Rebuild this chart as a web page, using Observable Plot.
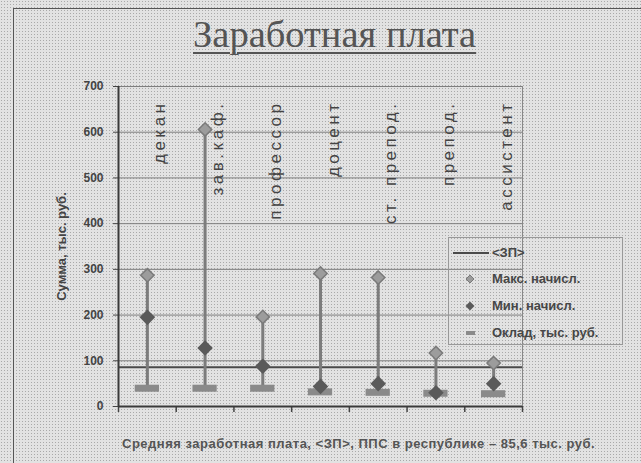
<!DOCTYPE html>
<html>
<head>
<meta charset="utf-8">
<script src="https://cdn.jsdelivr.net/npm/d3@7"></script>
<script src="https://cdn.jsdelivr.net/npm/@observablehq/plot@0.6"></script>
<style>
  html, body { margin: 0; padding: 0; }
  body {
    width: 641px; height: 463px; overflow: hidden; position: relative;
    background-color: #e2e2e2;
    background-image: radial-gradient(#a9a9a9 0.9px, transparent 1px);
    background-size: 3px 3px;
    font-family: "Liberation Sans", Arial, sans-serif;
  }
  #frame { position: absolute; left: 13px; top: 8px; width: 700px; height: 500px; border: 1.5px solid #555; }
  #title {
    position: absolute; left: 0; width: 641px; top: 15px; text-align: left;
    font-family: "Liberation Serif", "Times New Roman", serif; font-size: 38.5px; line-height: 38.5px;
    color: #555; 
  }
  #title span { position: absolute; left: 193px; text-decoration: underline; text-decoration-thickness: 1.5px; text-underline-offset: 5px; white-space: nowrap; }
  #chart { position: absolute; left: 0; top: 0; }
  #legend {
    position: absolute; left: 448px; top: 237px; width: 175px; height: 108px;
    border: 1px solid #999; box-sizing: border-box;
  }
  .item { position: absolute; left: 0; height: 20px; width: 175px; font-weight: bold; font-size: 13px; color: #474747; }
  .item svg { position: absolute; left: 0; top: 0; }
  .item span { position: absolute; left: 43px; top: 2px; white-space: nowrap; }
  #caption {
    position: absolute; left: 122px; top: 436px; white-space: nowrap;
    font-size: 13px; letter-spacing: 0.5px; font-weight: bold; color: #555;
  }
</style>
</head>
<body>
<div id="frame"></div>
<div id="chart"></div>
<div id="title"><span></span></div>
<div id="legend"></div>
<div id="caption"></div>
<script>
const titleText = "Заработная плата";
const yLabel = "Сумма, тыс. руб.";
const captionText = "Средняя заработная плата, <ЗП>, ППС в республике – 85,6 тыс. руб.";
const categories = ["декан", "зав.каф.", "профессор", "доцент", "ст. препод.", "препод.", "ассистент"];
const maxPay = [287, 606, 196, 291, 282, 117, 95];
const minPay = [195, 128, 88, 44, 50, 30, 50];
const salary = [40, 40, 40, 32, 31, 29, 28];
const avgPay = 85.6;
const yTicks = [0, 100, 200, 300, 400, 500, 600, 700];
const legendLabels = ["<ЗП>", "Макс. начисл.", "Мин. начисл.", "Оклад, тыс. руб."];

const rows = categories.map((cat, i) => ({cat, i, xc: i + 0.5, max: maxPay[i], min: minPay[i], salary: salary[i]}));
const xDomain = [0, categories.length];

const chart = Plot.plot({
  width: 641, height: 463,
  marginLeft: 118, marginRight: 119, marginTop: 86, marginBottom: 57,
  x: {domain: xDomain, axis: null},
  y: {domain: [0, 700], axis: null},
  style: {background: "transparent", fontFamily: "Liberation Sans, Arial, sans-serif", overflow: "visible"},
  marks: [
    Plot.gridY(yTicks.slice(1), {stroke: "#7e7e7e", strokeOpacity: 1, strokeWidth: 1}),
    Plot.ruleX([xDomain[1]], {stroke: "#888", strokeWidth: 1}),
    Plot.ruleY([avgPay], {stroke: "#4a4a4a", strokeWidth: 2}),
    Plot.ruleX(rows, {x: "xc", y1: "salary", y2: "max", stroke: "#7c7c7c", strokeWidth: 3}),
    Plot.ruleY(rows, {y: "salary", x1: d => d.i + 0.29, x2: d => d.i + 0.71, stroke: "#8a8a8a", strokeWidth: 7}),
    Plot.dot(rows, {x: "xc", y: "min", symbol: "diamond2", r: 7, fill: "#5a5a5a"}),
    Plot.dot(rows, {x: "xc", y: "max", symbol: "diamond2", r: 6, fill: "#9c9c9c", stroke: "#7a7a7a"}),
    Plot.text(rows, {x: "xc", text: "cat", frameAnchor: "top", rotate: -90, textAnchor: "end", dy: 14, dx: 6,
      fontSize: 17, fill: "#444"}),
    Plot.axisY({ticks: yTicks, tickSize: 5, tickPadding: 10, fontSize: 12, fontWeight: "bold", color: "#444",
      label: yLabel, labelAnchor: "center", labelArrow: "none", labelOffset: 62}),
    Plot.axisX({ticks: d3.range(xDomain[0], xDomain[1] + 1), tickSize: 6, tickFormat: () => "", label: null, stroke: "#444", strokeWidth: 1.5}),
    Plot.ruleX([xDomain[0]], {stroke: "#3a3a3a", strokeWidth: 2}),
    Plot.ruleY([0], {stroke: "#3a3a3a", strokeWidth: 2})
  ]
});
chart.querySelectorAll("text").forEach(t => {
  if (t.textContent === yLabel) { t.setAttribute("font-weight", "bold"); t.setAttribute("font-size", "13"); t.setAttribute("fill", "#444"); }
  if (categories.includes(t.textContent)) { t.setAttribute("letter-spacing", "3.5"); }
});
document.getElementById("chart").appendChild(chart);
document.querySelector("#title span").textContent = titleText;
document.getElementById("caption").textContent = captionText;

const legend = document.getElementById("legend");
const swatches = [
  '<line x1="4" y1="10" x2="40" y2="10" stroke="#4a4a4a" stroke-width="2"/>',
  '<path d="M21,6 L25,10 L21,14 L17,10 Z" fill="#9c9c9c" stroke="#7a7a7a"/>',
  '<path d="M21,5.5 L25.5,10 L21,14.5 L16.5,10 Z" fill="#5a5a5a"/>',
  '<line x1="17" y1="10" x2="26" y2="10" stroke="#8a8a8a" stroke-width="4"/>'
];
const rowTops = [5, 31, 58, 85];
legendLabels.forEach((lab, k) => {
  const div = document.createElement("div");
  div.className = "item";
  div.style.top = (rowTops[k]) + "px";
  div.innerHTML = `<svg width="44" height="20">${swatches[k]}</svg><span></span>`;
  div.querySelector("span").textContent = lab;
  legend.appendChild(div);
});
</script>
</body>
</html>
